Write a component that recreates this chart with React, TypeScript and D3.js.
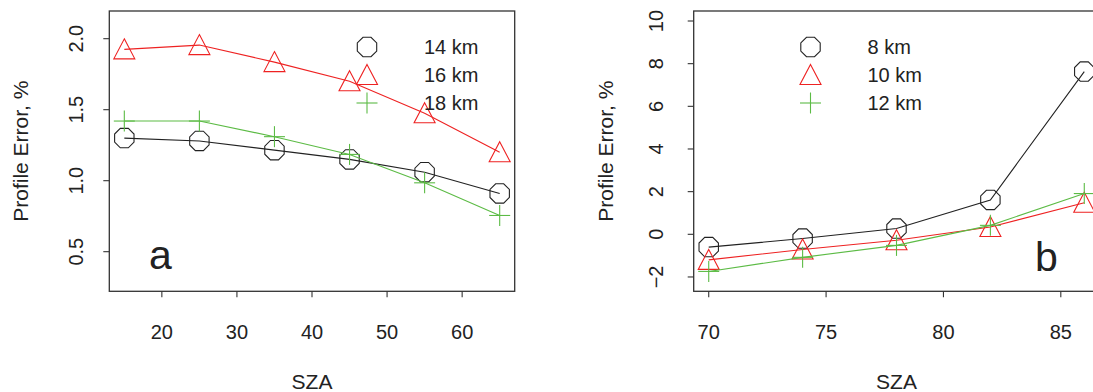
import React from 'react';
import * as d3 from 'd3';

// panel a: SZA 15..65, heights 14/16/18 km
const szaA = [15, 25, 35, 45, 55, 65];
const err14 = [1.30, 1.28, 1.215, 1.15, 1.06, 0.91];
const err16 = [1.925, 1.955, 1.835, 1.70, 1.475, 1.20];
const err18 = [1.42, 1.42, 1.31, 1.185, 0.985, 0.755];
const ticksXA = [20, 30, 40, 50, 60];
const ticksYA = [0.5, 1.0, 1.5, 2.0];
const legendA = ['14 km', '16 km', '18 km'];

// panel b: SZA 70..86, heights 8/10/12 km
const szaB = [70, 74, 78, 82, 86];
const err8 = [-0.6, -0.2, 0.27, 1.61, 7.63];
const err10 = [-1.2, -0.71, -0.28, 0.34, 1.48];
const err12 = [-1.74, -1.08, -0.52, 0.42, 1.91];
const ticksXB = [70, 75, 80, 85];
const ticksYB = [-2, 0, 2, 4, 6, 8, 10];
const legendB = ['8 km', '10 km', '12 km'];

const BLACK = '#222';
const RED = '#ee2222';
const GREEN = '#5cbb45';
const FONT = '"Liberation Sans", Arial, Helvetica, sans-serif';

type Shape = 'circle' | 'triangle' | 'plus';

const Marker = ({ shape, x, y, color }: { shape: Shape; x: number; y: number; color: string }) => {
    if (shape === 'circle') {
        const r = 10.5;
        const pts = d3.range(8).map(k => {
            const a = (Math.PI / 8) + k * Math.PI / 4;
            return `${x + r * Math.cos(a)},${y + r * Math.sin(a)}`;
        }).join(' ');
        return <polygon points={pts} fill="none" stroke={color} strokeWidth={1.1} />;
    }
    if (shape === 'triangle') {
        const pts = `${x},${y - 10.5} ${x + 10.5},${y + 9.5} ${x - 10.5},${y + 9.5}`;
        return <polygon points={pts} fill="none" stroke={color} strokeWidth={1.1} />;
    }
    return (
        <g stroke={color} strokeWidth={1.1}>
            <line x1={x - 10.5} x2={x + 10.5} y1={y} y2={y} />
            <line x1={x} x2={x} y1={y - 10.5} y2={y + 10.5} />
        </g>
    );
};

interface Series { values: number[]; color: string; shape: Shape }

interface PanelProps {
    xs: number[];
    series: Series[];
    xRange: [number, number];
    xDomain: [number, number];
    yDomain: [number, number];
    xTicks: number[];
    yTicks: number[];
    yFmt: (v: number) => string;
    tickLabelX: number;
    titleX: number;
    legend: string[];
    legendX: number;
    tag: string;
    tagX: number;
    tagY: number;
}

const Panel = (p: PanelProps) => {
    const top = 11, bottom = 291.3;
    const x = d3.scaleLinear().domain(p.xDomain).range(p.xRange);
    const y = d3.scaleLinear().domain(p.yDomain).range([bottom, top]);
    const line = d3.line<number>().x((_, i) => x(p.xs[i])).y(d => y(d));
    const [x0, x1] = p.xRange;
    const cx = (x0 + x1) / 2;
    const cy = (top + bottom) / 2;

    return (
        <g fontFamily={FONT} fill="#222">
            <rect x={x0} y={top} width={x1 - x0} height={bottom - top} fill="none" stroke="#333" strokeWidth={1.3} />
            {p.xTicks.map(t => (
                <g key={'x' + t}>
                    <line x1={x(t)} x2={x(t)} y1={bottom} y2={bottom + 6} stroke="#333" strokeWidth={1.1} />
                    <text x={x(t)} y={338.5} textAnchor="middle" fontSize={20}>{t}</text>
                </g>
            ))}
            {p.yTicks.map(t => (
                <g key={'y' + t}>
                    <line x1={x0 - 6} x2={x0} y1={y(t)} y2={y(t)} stroke="#333" strokeWidth={1.1} />
                    <text transform={`translate(${p.tickLabelX},${y(t)}) rotate(-90)`} textAnchor="middle" fontSize={20}>{p.yFmt(t)}</text>
                </g>
            ))}
            <text x={cx} y={389} textAnchor="middle" fontSize={21}>SZA</text>
            <text transform={`translate(${p.titleX},${cy}) rotate(-90)`} textAnchor="middle" fontSize={21}>Profile Error, %</text>

            {p.series.map((s, i) => (
                <g key={'s' + i}>
                    <path d={line(s.values) || ''} fill="none" stroke={s.color} strokeWidth={1.1} />
                    {s.values.map((v, j) => <Marker key={j} shape={s.shape} x={x(p.xs[j])} y={y(v)} color={s.color} />)}
                </g>
            ))}

            {p.legend.map((lab, i) => (
                <g key={'l' + i}>
                    <Marker shape={p.series[i].shape} x={p.legendX} y={47 + i * 28} color={p.series[i].color} />
                    <text x={p.legendX + 57} y={47 + i * 28 + 7.3} fontSize={20}>{lab}</text>
                </g>
            ))}

            <text x={p.tagX} y={p.tagY} fontSize={41}>{p.tag}</text>
        </g>
    );
};

export default function App() {
    return (
        <svg width={1093} height={392} style={{ position: 'absolute', left: 0, top: 0, background: '#fff' }}>
            <rect width={1093} height={392} fill="#fff" />
            <Panel
                xs={szaA}
                series={[
                    { values: err14, color: BLACK, shape: 'circle' },
                    { values: err16, color: RED, shape: 'triangle' },
                    { values: err18, color: GREEN, shape: 'plus' },
                ]}
                xRange={[109.3, 514.7]}
                xDomain={[13, 67]}
                yDomain={[0.221, 2.195]}
                xTicks={ticksXA}
                yTicks={ticksYA}
                yFmt={d3.format('.1f')}
                tickLabelX={83.3}
                titleX={27.9}
                legend={legendA}
                legendX={367}
                tag="a"
                tagX={149}
                tagY={268.5}
            />
            <Panel
                xs={szaB}
                series={[
                    { values: err8, color: BLACK, shape: 'circle' },
                    { values: err10, color: RED, shape: 'triangle' },
                    { values: err12, color: GREEN, shape: 'plus' },
                ]}
                xRange={[693.7, 1099.3]}
                xDomain={[69.36, 86.64]}
                yDomain={[-2.672, 10.469]}
                xTicks={ticksXB}
                yTicks={ticksYB}
                yFmt={v => (v < 0 ? '\u2212' + Math.abs(v) : String(v))}
                tickLabelX={662.7}
                titleX={612.7}
                legend={legendB}
                legendX={810.5}
                tag="b"
                tagX={1035}
                tagY={271}
            />
        </svg>
    );
}
